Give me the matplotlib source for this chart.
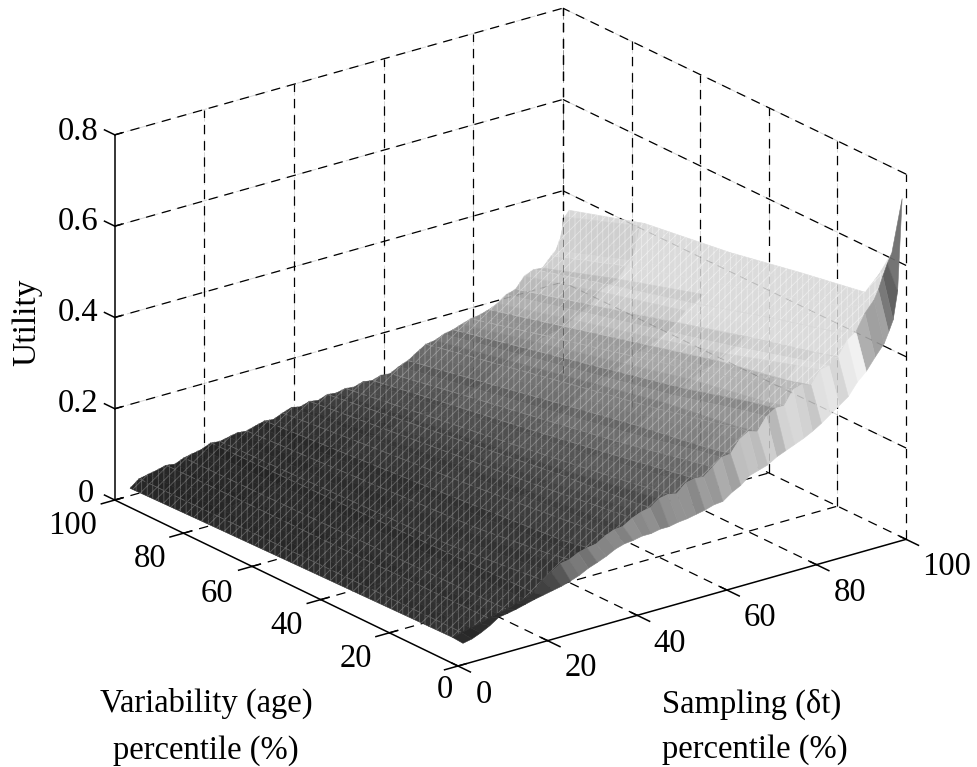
import numpy as np
import matplotlib
matplotlib.use("Agg")
import matplotlib.pyplot as plt
from mpl_toolkits.mplot3d import proj3d
from mpl_toolkits.mplot3d.art3d import Poly3DCollection

W, H = 977, 767
plt.rcParams['font.family'] = ['Liberation Serif', 'DejaVu Serif']
plt.rcParams['hatch.linewidth'] = 0.55

# ---------- data ----------
sampling = [1,3,5,7,9,11,13,15,17,19,21,23,25,27,29,31,33,35,37,39,41,43,45,47,49,51,53,55,57,59,
            61,63,65,67,69,71,73,75,77,79,81,83,85,87,89,91,93,95,96,97,98,99]
variability = [0,3,10,30,50,75,97]
z_v0 = [.048,.052,.060,.070,.083,.086,.090,.095,.100,.104,.108,.112,.118,.125,.135,.142,.150,.160,.166,.168,
        .172,.172,.176,.176,.180,.182,.186,.190,.196,.198,.212,.222,.238,.244,.250,.262,.270,.278,.286,.296,
        .308,.322,.336,.350,.376,.394,.420,.444,.466,.490,.550,.750]
z_v3 = [.050,.055,.060,.064,.070,.074,.078,.085,.090,.098,.120,.132,.145,.148,.158,.163,.166,.178,.186,.188,
        .200,.208,.212,.226,.230,.226,.244,.248,.246,.262,.278,.280,.306,.318,.312,.340,.352,.352,.382,.388,
        .380,.408,.412,.425,.456,.470,.505,.528,.548,.575,.600,.620]
z_v10 = [.049,.055,.060,.064,.069,.073,.077,.084,.089,.097,.114,.124,.136,.138,.150,.153,.154,.174,.180,.181,
         .193,.200,.204,.217,.221,.217,.235,.238,.236,.251,.267,.268,.294,.306,.300,.328,.340,.339,.368,.374,
         .365,.393,.398,.410,.436,.445,.465,.485,.492,.498,.505,.507]
z_v30 = [.046,.054,.058,.062,.068,.070,.075,.081,.086,.094,.098,.107,.117,.119,.134,.140,.149,.156,.163,.166,
         .172,.178,.188,.189,.196,.198,.205,.209,.216,.218,.233,.243,.258,.270,.277,.288,.298,.311,.323,.328,
         .335,.345,.355,.372,.390,.405,.420,.440,.455,.470,.478,.480]
z_v50 = [.043,.053,.057,.061,.066,.067,.073,.078,.083,.091,.093,.100,.109,.110,.122,.127,.133,.140,.147,.149,
         .155,.158,.167,.167,.173,.174,.181,.182,.190,.190,.203,.213,.227,.240,.245,.255,.263,.274,.284,.289,
         .296,.305,.316,.330,.350,.360,.375,.395,.410,.430,.447,.450]
z_v75 = [.039,.051,.055,.059,.065,.063,.070,.075,.079,.087,.087,.093,.099,.098,.107,.112,.114,.122,.129,.127,
         .133,.133,.141,.140,.145,.144,.151,.150,.156,.156,.167,.175,.189,.201,.205,.214,.220,.229,.237,.241,
         .247,.256,.268,.278,.301,.310,.318,.340,.350,.375,.420,.423]
z_v97 = [.035,.050,.054,.058,.063,.060,.068,.072,.076,.084,.082,.086,.090,.088,.094,.099,.097,.105,.112,.108,
         .114,.111,.118,.116,.120,.118,.124,.121,.127,.125,.135,.142,.155,.167,.170,.178,.182,.189,.195,.198,
         .204,.212,.226,.232,.255,.264,.262,.283,.292,.315,.360,.372]
tick_percent = [0, 20, 40, 60, 80, 100]
tick_utility = [0, 0.2, 0.4, 0.6, 0.8]

Z = np.array([z_v0, z_v3, z_v10, z_v30, z_v50, z_v75, z_v97])
S = np.array(sampling, float)
V = np.array(variability, float)

# tone of each band between two sampling columns (ridge lighter, groove darker)
band_tone = [.03,-.05,.02,.0,-.07,.03,-.01,.02,-.09,.01,.03,-.06,.02,-.02,-.10,.03,.01,.02,-.07,.03,
             -.03,.02,-.09,.01,.03,.0,-.10,.02,-.04,.03,-.10,.02,.01,-.05,.03,-.11,.02,.03,-.02,-.09,
             .02,.03,-.06,.01,.03,-.05,.01,.02,-.02,-.03,.0]
ridge_columns = [1,4,6,9,10,13,15,17,20,22,24,27,29,31,33,36,38,40,43,45,47]

# ---------- axes ----------
fig = plt.figure(figsize=(W/100, H/100), dpi=100)
fig.patch.set_facecolor('white')
ax = fig.add_axes([-0.2, -0.3, 1.4, 1.6], projection='3d', computed_zorder=False)
ax.set_proj_type('ortho')
ax.view_init(elev=21.7, azim=-127.4)
ax.set_xlim(0, 100, view_margin=0)
ax.set_ylim(0, 100, view_margin=0)
ax.set_zlim(0, 0.8, view_margin=0)
ax.set_axis_off()
aspect = (564, 565, 393)

def px(x, y, z):
    a, b, _ = proj3d.proj_transform(x, y, z, ax.get_proj())
    return ax.transData.transform((a, b))

zoom = 1.0
target_front = np.array([458, H-666.0])
target_right = np.array([906, H-539.0])
ax.set_box_aspect(aspect, zoom=zoom)
for _ in range(3):
    fig.canvas.draw()
    f, r = px(0, 0, 0), px(100, 0, 0)
    zoom *= np.linalg.norm(target_right-target_front)/np.linalg.norm(r-f)
    ax.set_box_aspect(aspect, zoom=zoom)
    fig.canvas.draw()
    f = px(0, 0, 0)
    pos = ax.get_position(original=True)
    d = target_front-f
    ax.set_position([pos.x0+d[0]/W, pos.y0+d[1]/H, pos.width, pos.height])

# ---------- box, grid ----------
dash_style = (0, (7.5, 5.5))
dash = dict(color='black', lw=0.9, ls=dash_style, zorder=1)
for t in tick_percent[1:]:
    ax.plot([t, t], [0, 100], [0, 0], **dash)
    ax.plot([0, 100], [t, t], [0, 0], **dash)
    ax.plot([t, t], [100, 100], [0, 0.8], **dash)
    ax.plot([100, 100], [t, t], [0, 0.8], **dash)
ax.plot([100, 100], [0, 0], [0, 0.8], **dash)
for u in tick_utility[1:]:
    ax.plot([0, 100], [100, 100], [u, u], **dash)
    ax.plot([100, 100], [0, 100], [u, u], **dash)

# ---------- surface ----------
def base_gray(s):
    return np.interp(s, [0, 20, 30, 40, 50, 60, 70, 75, 80, 85, 90, 95, 99],
                     [.14, .15, .17, .20, .26, .34, .43, .50, .58, .65, .71, .77, .81])
def wall_gray(s):
    return np.interp(s, [0, 15, 22, 27, 40, 50, 58, 65, 75, 85, 90, 92, 94, 95, 96, 97, 98, 99],
                     [.16, .18, .28, .48, .55, .56, .62, .75, .82, .88, .92, .72, .62, .7, .55, .42, .36, .55])
cells = []
for j in range(len(V)-1):
    for i in range(len(S)-1):
        cells.append((S[i]+V[j], j, i))
cells.sort(reverse=True)
for k, (_, j, i) in enumerate(cells):
    verts = [[(S[i], V[j], Z[j, i]), (S[i+1], V[j], Z[j, i+1]),
              (S[i+1], V[j+1], Z[j+1, i+1]), (S[i], V[j+1], Z[j+1, i])]]
    sm = (S[i]+S[i+1])/2
    vm = (V[j]+V[j+1])/2
    if j == 0:
        g = float(np.clip(wall_gray(sm)*(1+0.9*band_tone[i]), 0, 1))
        ax.add_collection3d(Poly3DCollection(verts, facecolors=[(g, g, g)], edgecolors=[(g, g, g)],
                                             linewidths=0.4, zorder=2+k*1e-3))
    else:
        g = base_gray(sm)*(1+0.38*(1-vm/100))
        g = float(np.clip(g*(1+band_tone[i]), 0.08, 0.86))
        h = g+0.27*(1-g)**0.7
        ax.add_collection3d(Poly3DCollection(verts, facecolors=[(g, g, g)], edgecolors=[(g, g, g)],
                                             linewidths=0.4, zorder=2+k*1e-3))
        ax.add_collection3d(Poly3DCollection(verts, facecolors=[(0, 0, 0, 0)], edgecolors=[(h, h, h)],
                                             linewidths=0, hatch='|||///', zorder=2+k*1e-3+1e-4))

# light broken lines along the ridges
for n, i in enumerate(ridge_columns):
    g = float(base_gray(S[i]))
    c = g+0.3*(1-g)**0.7
    ax.plot(S[i]*np.ones(6), V[1:], Z[1:, i], color=(c, c, c), lw=0.5, zorder=3.5,
            ls=(n*7, (16, 5, 9, 3, 24, 6)))

# faint grid seen through the surface
faint = dict(color='black', lw=0.7, ls=dash_style, zorder=4, alpha=0.16)
for t in tick_percent[1:]:
    ax.plot([t, t], [100, 100], [0, 0.8], **faint)
    ax.plot([100, 100], [t, t], [0, 0.8], **faint)
ax.plot([100, 100], [100, 100], [0, 0.8], **faint)
for u in tick_utility[1:]:
    ax.plot([0, 100], [100, 100], [u, u], **faint)
    ax.plot([100, 100], [0, 100], [u, u], **faint)

# ---------- solid axes and ticks ----------
solid = dict(color='black', lw=1.1, zorder=5)
ax.plot([0, 100], [0, 0], [0, 0], **solid)
ax.plot([0, 0], [0, 100], [0, 0], **solid)
ax.plot([0, 0], [100, 100], [0, 0.8], **solid)
for t in tick_percent:
    ax.plot([t, t], [0, -3.6], [0, 0], **solid)
    ax.plot([0, -3.0], [t, t], [0, 0], **solid)
    ax.plot([t, t], [0, 1.8], [0, 0], color='black', lw=1.1, zorder=1)
    ax.plot([0, 1.8], [t, t], [0, 0], color='black', lw=1.1, zorder=1)
for u in tick_utility:
    ax.plot([0, 1.5], [100, 100], [u, u], **solid)
    ax.plot([0, 0], [100, 103], [u, u], **solid)

# ---------- text ----------
FS = 23.5
def label(x, y, s, fs=FS, ha='center', **kw):
    fig.text(x/W, 1-y/H, s, fontsize=fs, ha=ha, va='center', color='black', **kw)

for t, (x, y) in zip(tick_percent, [(445, 690), (356, 659), (287, 626), (217, 594), (150, 559), (73, 526)]):
    label(x, y, str(t))
for t, (x, y) in zip(tick_percent, [(484, 695), (581, 668), (670, 644), (760, 618), (850, 593), (947, 567)]):
    label(x, y, str(t))
for u, (x, y) in zip(tick_utility, [(86, 494), (78, 404), (78, 313), (78, 222), (78, 132)]):
    label(x, y, '0' if u == 0 else f'{u:.1f}')
label(27, 322, 'Utility', fs=24, rotation=90)
label(206, 703, 'Variability (age)')
label(206, 751, 'percentile (%)')
label(662, 704, 'Sampling (δt)', ha='left')
label(662, 750, 'percentile (%)', ha='left')

fig.savefig('out.png', dpi=100, facecolor='white')
